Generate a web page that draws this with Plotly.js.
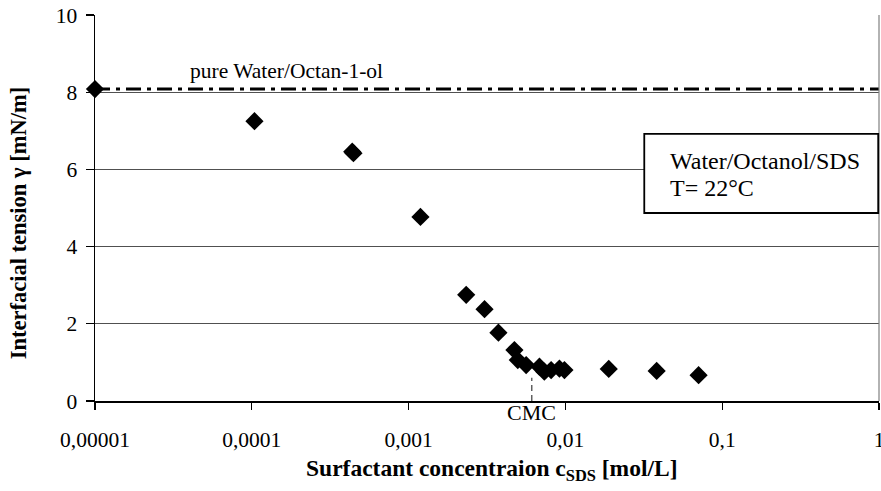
<!DOCTYPE html>
<html>
<head>
<meta charset="utf-8">
<script src="https://cdn.plot.ly/plotly-3.0.1.min.js"></script>
<style>
  html, body { margin: 0; padding: 0; background: #fff; }
  #chart { width: 881px; height: 491px; }
</style>
</head>
<body>
<div id="chart"></div>
<script>
// SDS concentration [mol/L] and measured interfacial tension [mN/m]
const concentration = [
  1.0e-5, 1.04e-4, 4.37e-4, 4.45e-4, 1.19e-3, 2.33e-3, 3.05e-3, 3.74e-3,
  4.73e-3, 4.97e-3, 5.62e-3, 6.83e-3, 7.34e-3, 8.11e-3, 9.16e-3, 9.86e-3,
  1.89e-2, 3.82e-2, 7.07e-2
];
const tension = [
  8.08, 7.25, 6.46, 6.42, 4.77, 2.75, 2.38, 1.77,
  1.32, 1.06, 0.93, 0.89, 0.76, 0.80, 0.84, 0.80,
  0.83, 0.78, 0.67
];

// Reference level of the pure Water/Octan-1-ol system
const pureLevel = 8.08;
const pureRange = [1e-5, 1];

// Critical micelle concentration marker
const cmc = 6.1e-3;
const cmcMarkHeight = [0, 0.6];

// Axis ticks
const xTickVals = [1e-5, 1e-4, 1e-3, 1e-2, 1e-1, 1];
const xTickText = ['0,00001', '0,0001', '0,001', '0,01', '0,1', '1'];
const yTickVals = [0, 2, 4, 6, 8, 10];

const serif = 'Liberation Serif, Times New Roman, serif';

const traces = [
  {
    x: pureRange,
    y: [pureLevel, pureLevel],
    mode: 'lines',
    line: { color: '#000', width: 3, dash: '15px,6px,4px,6px' },
    hoverinfo: 'skip',
    showlegend: false
  },
  {
    x: [cmc, cmc],
    y: cmcMarkHeight,
    mode: 'lines',
    line: { color: '#606060', width: 1.5, dash: '6px,4px' },
    hoverinfo: 'skip',
    showlegend: false
  },
  {
    x: concentration,
    y: tension,
    mode: 'markers',
    marker: { symbol: 'diamond', size: 14, color: '#000' },
    cliponaxis: false,
    showlegend: false
  }
];

const layout = {
  width: 881,
  height: 491,
  margin: { l: 95, r: 2, t: 15, b: 90 },
  paper_bgcolor: '#fff',
  plot_bgcolor: '#fff',
  font: { family: serif, size: 21, color: '#000' },
  showlegend: false,
  xaxis: {
    type: 'log',
    range: [-5, 0],
    tickvals: xTickVals,
    ticktext: xTickText,
    ticks: 'outside',
    ticklen: 7,
    tickwidth: 1.2,
    tickcolor: '#000',
    ticklabelstandoff: 12,
    ticklabeloverflow: 'allow',
    showgrid: false,
    zeroline: false,
    showline: true,
    linecolor: '#000',
    linewidth: 1.5,
    tickfont: { family: serif, size: 21.5, color: '#000' }
  },
  yaxis: {
    range: [0, 10],
    tickvals: yTickVals,
    ticks: 'outside',
    ticklen: 8,
    tickwidth: 1.2,
    tickcolor: '#000',
    ticklabelstandoff: 4,
    ticklabeloverflow: 'allow',
    showgrid: true,
    gridcolor: '#505050',
    gridwidth: 1,
    zeroline: false,
    showline: true,
    linecolor: '#000',
    linewidth: 1.5,
    tickfont: { family: serif, size: 21.5, color: '#000' }
  },
  shapes: [
    // right frame edge of the plot area
    { type: 'line', xref: 'paper', yref: 'paper', x0: 1, x1: 1, y0: 0, y1: 1,
      line: { color: '#808080', width: 1.2 } },
    // info box
    { type: 'rect', xref: 'paper', yref: 'paper', x0: 0.7006, x1: 0.999, y0: 0.487, y1: 0.692,
      fillcolor: '#fff', line: { color: '#000', width: 1.8 }, layer: 'above' }
  ],
  annotations: [
    { text: 'pure Water/Octan-1-ol', xref: 'x', yref: 'y', x: -4.408, y: 8.55,
      xanchor: 'left', yanchor: 'middle', showarrow: false,
      font: { family: serif, size: 21.5, color: '#000' } },
    { text: 'CMC', xref: 'x', yref: 'paper', x: Math.log10(cmc), y: -0.031,
      xanchor: 'center', yanchor: 'middle', showarrow: false,
      font: { family: serif, size: 22, color: '#000' } },
    { text: 'Water/Octanol/SDS', xref: 'paper', yref: 'paper', x: 0.7304, y: 0.622,
      xanchor: 'left', yanchor: 'middle', showarrow: false,
      font: { family: serif, size: 24, color: '#000' } },
    { text: 'T= 22°C', xref: 'paper', yref: 'paper', x: 0.7304, y: 0.553,
      xanchor: 'left', yanchor: 'middle', showarrow: false,
      font: { family: serif, size: 24, color: '#000' } },
    { text: '<b>Surfactant concentraion c<sub>SDS</sub> [mol/L]</b>', xref: 'paper', yref: 'paper',
      x: 0.506, y: -0.179, xanchor: 'center', yanchor: 'middle', showarrow: false,
      font: { family: serif, size: 23.5, color: '#000' } },
    { text: '<b>Interfacial tension γ [mN/m]</b>', xref: 'paper', yref: 'paper',
      x: -0.098, y: 0.461, xanchor: 'center', yanchor: 'middle', showarrow: false,
      textangle: -90, font: { family: serif, size: 22.5, color: '#000' } }
  ]
};

Plotly.newPlot('chart', traces, layout, { staticPlot: true, displayModeBar: false });
</script>
</body>
</html>
